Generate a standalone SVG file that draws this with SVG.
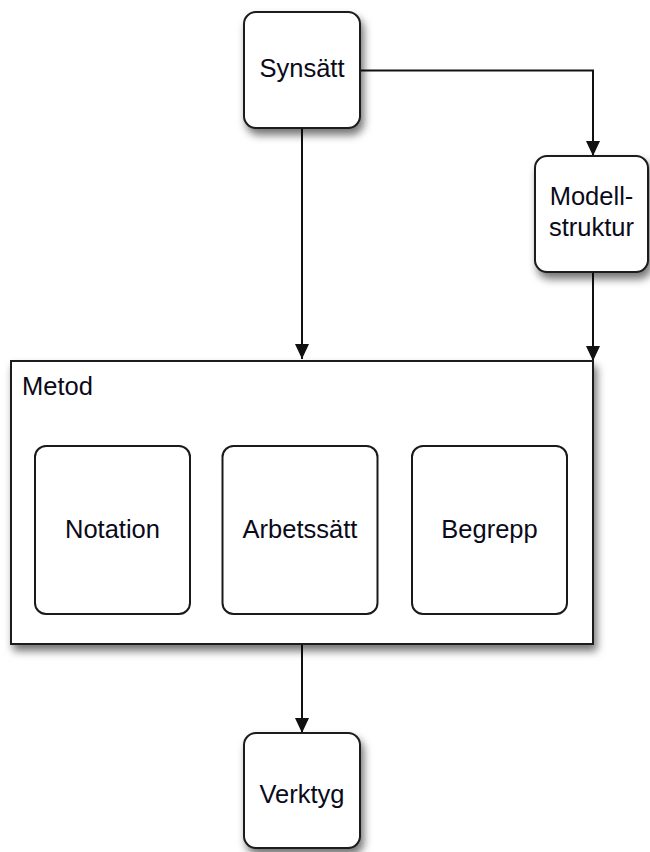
<svg xmlns="http://www.w3.org/2000/svg" width="650" height="852" viewBox="0 0 650 852">
  <style>
    .box { fill: #ffffff; stroke: #1a1a1a; stroke-width: 2; }
    .inner { fill: #ffffff; stroke: #1a1a1a; stroke-width: 2; }
    .label { font-family: "Liberation Sans", Arial, sans-serif; font-size: 25.5px; fill: #0a0a1a; text-anchor: middle; }
    .title { font-family: "Liberation Sans", Arial, sans-serif; font-size: 25.5px; fill: #0a0a1a; }
    .edge { fill: none; stroke: #111111; stroke-width: 2; }
  </style>
  <defs>
    <filter id="shadow" x="-20%" y="-20%" width="150%" height="150%">
      <feDropShadow dx="3" dy="6" stdDeviation="4" flood-color="#000000" flood-opacity="0.55"/>
    </filter>
    <marker id="arrow" markerUnits="userSpaceOnUse" markerWidth="16" markerHeight="18" refX="15" refY="7" orient="auto">
      <path d="M0,0 L15,7 L0,14 Z" fill="#111111"/>
    </marker>
  </defs>

  <rect width="650" height="852" fill="#ffffff"/>

  <!-- connectors -->
  <g id="connectors">
    <path class="edge" d="M302,128 L302,359" marker-end="url(#arrow)"/>
    <path class="edge" d="M360,70.5 L593,70.5 L593,156" marker-end="url(#arrow)"/>
    <path class="edge" d="M593,272 L593,361" marker-end="url(#arrow)"/>
    <path class="edge" d="M302,644 L302,733" marker-end="url(#arrow)"/>
  </g>

  <g id="synsatt">
    <rect class="box" x="244" y="12" width="116" height="116" rx="12" filter="url(#shadow)"/>
    <text class="label" x="302" y="77">Synsätt</text>
  </g>

  <g id="modellstruktur">
    <rect class="box" x="535" y="156" width="113" height="116" rx="12" filter="url(#shadow)"/>
    <text class="label" x="591.5" y="205">Modell-</text>
    <text class="label" x="591.5" y="236">struktur</text>
  </g>

  <g id="metod">
    <rect class="box" x="11" y="361" width="582" height="283" filter="url(#shadow)"/>
    <text class="title" x="22" y="395">Metod</text>
  </g>

  <g id="notation">
    <rect class="inner" x="35" y="446" width="155" height="168" rx="11"/>
    <text class="label" x="112.5" y="538">Notation</text>
  </g>

  <g id="arbetssatt">
    <rect class="inner" x="222.5" y="446" width="155" height="168" rx="11"/>
    <text class="label" x="300" y="538">Arbetssätt</text>
  </g>

  <g id="begrepp">
    <rect class="inner" x="412" y="446" width="155" height="168" rx="11"/>
    <text class="label" x="489.5" y="538">Begrepp</text>
  </g>

  <g id="verktyg">
    <rect class="box" x="244" y="733" width="116" height="115" rx="12" filter="url(#shadow)"/>
    <text class="label" x="302" y="803">Verktyg</text>
  </g>
</svg>
